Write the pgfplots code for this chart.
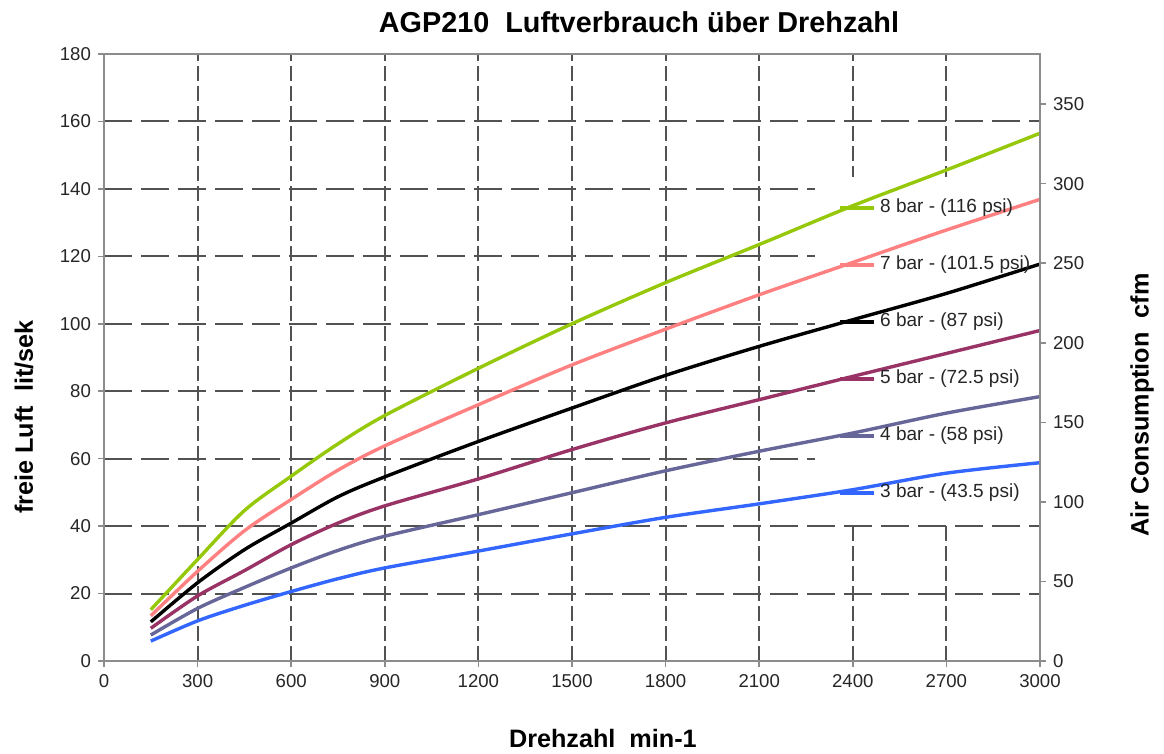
\documentclass[border=0pt]{standalone}
\usepackage{pgfplots}
\pgfplotsset{compat=1.18}
\usepackage{fontspec}
\setmainfont{Liberation Sans}
\definecolor{cgreen}{RGB}{150,200,10}
\definecolor{cpink}{RGB}{255,128,128}
\definecolor{cpurple}{RGB}{153,51,102}
\definecolor{cslate}{RGB}{102,102,153}
\definecolor{cblue}{RGB}{51,102,255}
\begin{document}
\begin{tikzpicture}
\useasboundingbox (-52pt,-46.5pt) rectangle (530pt,330.5pt);
\begin{axis}[
  at={(0,0)}, anchor=south west,
  scale only axis, width=468pt, height=303.5pt,
  xmin=0, xmax=3000, ymin=0, ymax=180,
  xtick={0,300,...,3000}, ytick={0,20,...,180},
  grid=major,
  x grid style={black!68, line width=1pt, dash pattern=on 7.5pt off 2.5pt},
  y grid style={black!68, line width=1pt, dash pattern=on 14pt off 4.5pt},
  axis line style={black!45, line width=0.8pt},
  tick style={black!45, line width=0.8pt},
  tick align=outside, major tick length=3pt,
  xtick pos=left, ytick pos=left,
  ticklabel style={font=\fontsize{9.3}{11}\selectfont, text=black!85},
  /pgf/number format/assume math mode=true,
  /pgf/number format/1000 sep={},
  scaled x ticks=false,
  label style={font=\bfseries\fontsize{12.6}{15}\selectfont},
  xlabel={Drehzahl\ \ min-1},
  xlabel style={at={(axis description cs:0.533,-0.1285)}, anchor=center},
  ylabel={freie Luft\ \ lit/sek},
  ylabel style={at={(axis description cs:-0.0855,0.402)}, anchor=center},
  title={AGP210\ \ Luftverbrauch über Drehzahl},
  title style={at={(axis description cs:0.5716,1.056)}, anchor=center, yshift=-7pt, font=\bfseries\fontsize{14.4}{17}\selectfont},
  legend cell align=left,
  legend image code/.code={\draw[#1, line width=2pt] (0pt,0pt) -- (17pt,0pt);},
  legend style={draw=none, fill=none, at={(axis cs:2352,92.2)}, anchor=west,
    inner sep=0pt, row sep=19.5pt, font=\fontsize{9.5}{11}\selectfont, text=black!85,
    nodes={inner sep=0pt, text height=7pt, text depth=2pt},
    /tikz/every odd column/.append style={column sep=2pt}},
  every axis plot/.append style={line width=1.7pt, smooth, tension=0.5},
]
\fill[white] (axis cs:2280,41) rectangle (axis cs:3000,143.5);
\addplot[cgreen] coordinates {
(150,15.2) (300,30.1) (450,44.6) (600,54.8) (750,64.4) (900,72.8) (1200,86.8) (1500,100) (1800,112.2) (2100,123.5) (2400,135) (2700,145.6) (3000,156.5)};
\addlegendentry{8 bar - (116 psi)}
\addplot[cpink] coordinates {
(150,13.4) (300,26.6) (450,38.6) (600,47.9) (750,56.6) (900,63.8) (1200,76) (1500,87.8) (1800,98.4) (2100,108.6) (2400,118.2) (2700,127.8) (3000,136.9)};
\addlegendentry{7 bar - (101.5 psi)}
\addplot[black] coordinates {
(150,11.6) (300,23.2) (450,33) (600,40.9) (750,48.7) (900,54.6) (1200,65.1) (1500,75) (1800,84.7) (2100,93.3) (2400,101.2) (2700,109) (3000,117.7)};
\addlegendentry{6 bar - (87 psi)}
\addplot[cpurple] coordinates {
(150,9.7) (300,19.3) (450,26.8) (600,34.5) (750,40.9) (900,46) (1200,54) (1500,62.7) (1800,70.6) (2100,77.5) (2400,84.4) (2700,91.2) (3000,98)};
\addlegendentry{5 bar - (72.5 psi)}
\addplot[cslate] coordinates {
(150,7.7) (300,15.6) (450,21.8) (600,27.6) (750,32.8) (900,37) (1200,43.4) (1500,49.9) (1800,56.4) (2100,62.2) (2400,67.6) (2700,73.5) (3000,78.4)};
\addlegendentry{4 bar - (58 psi)}
\addplot[cblue] coordinates {
(150,5.9) (300,11.9) (450,16.5) (600,20.6) (750,24.4) (900,27.6) (1200,32.6) (1500,37.7) (1800,42.6) (2100,46.6) (2400,50.8) (2700,55.7) (3000,58.8)};
\addlegendentry{3 bar - (43.5 psi)}
\end{axis}
\begin{axis}[
  at={(0,0)}, anchor=south west,
  scale only axis, width=468pt, height=303.5pt,
  xmin=0, xmax=3000, ymin=0, ymax=381.5,
  axis y line*=right, axis x line=none,
  ytick={0,50,...,350},
  axis line style={black!45, line width=0.8pt},
  tick style={black!45, line width=0.8pt},
  tick align=outside, major tick length=3pt,
  ticklabel style={font=\fontsize{9.3}{11}\selectfont, text=black!85},
  /pgf/number format/assume math mode=true,
  ylabel={Air Consumption\ \ cfm},
  ylabel style={at={(axis description cs:1.109,0.4217)}, anchor=center, rotate=0, font=\bfseries\fontsize{12.6}{15}\selectfont},
]
\addplot[draw=none] coordinates {(0,0) (3000,0)};
\end{axis}
\end{tikzpicture}
\end{document}
